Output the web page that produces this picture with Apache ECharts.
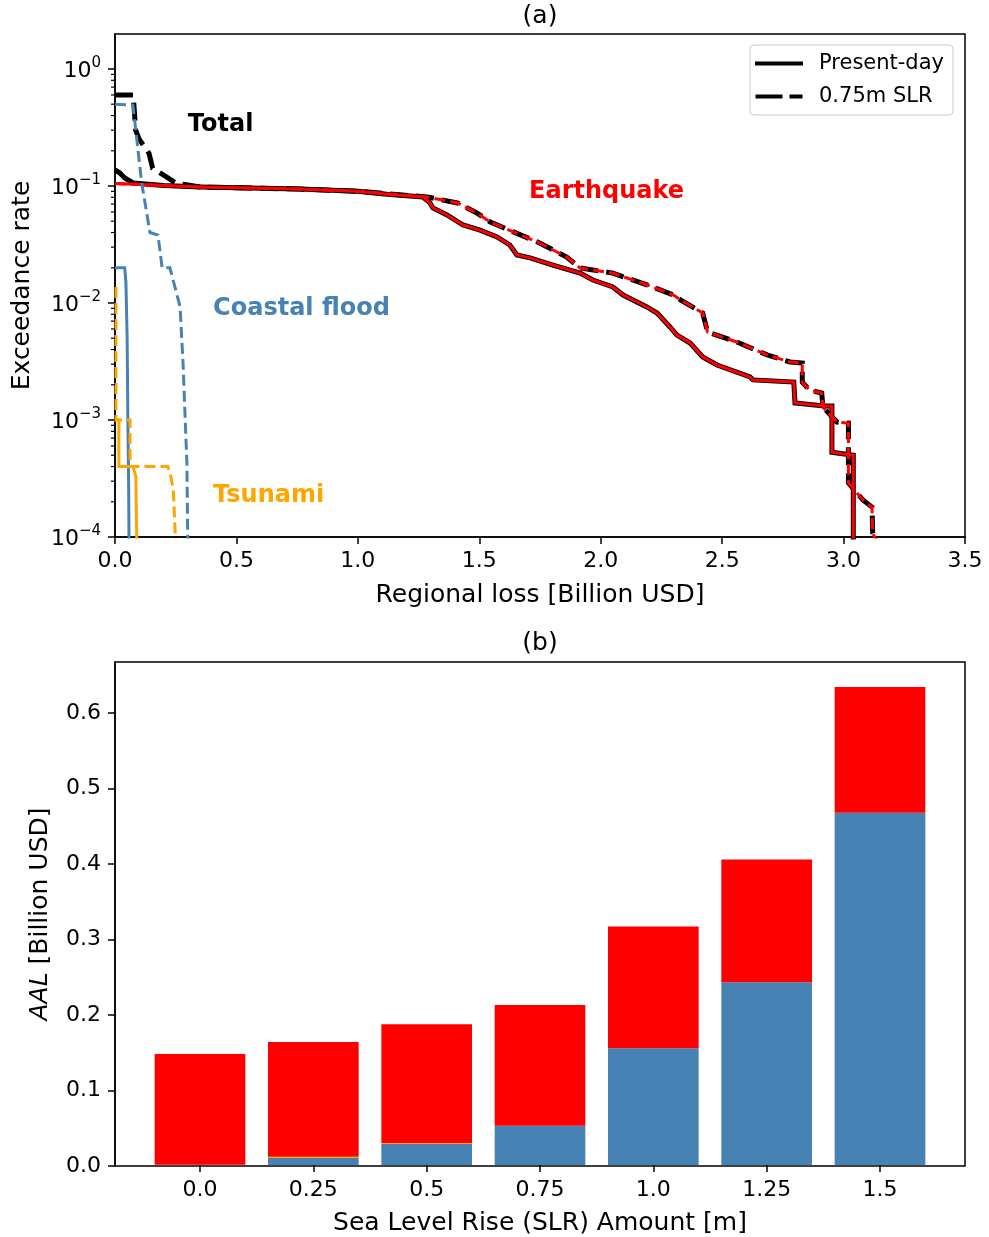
<!DOCTYPE html>
<html><head><meta charset="utf-8">
<script src="https://cdn.jsdelivr.net/npm/echarts@6/dist/echarts.min.js"></script>
<style>html,body{margin:0;padding:0;background:#fff}#c{width:989px;height:1237px}</style>
</head><body><div id="c"></div>
<script>
const FONT = 'DejaVu Sans';
const BLACK = '#000000', RED = '#ff0000', BLUE = '#4682b4', ORANGE = '#ffa500';

// ---------- Panel (a): exceedance curves [loss (billion USD), rate] ----------
const eqPresent = [[0,0.105],[0.35,0.098],[0.76,0.094],[1.0,0.09],[1.12,0.085],[1.268,0.0805],[1.297,0.0716],[1.309,0.0649],[1.367,0.0565],[1.433,0.0464],[1.503,0.042],[1.573,0.0367],[1.626,0.0313],[1.655,0.0257],[1.709,0.0243],[1.803,0.0211],[1.915,0.018],[1.968,0.0157],[2.05,0.0137],[2.092,0.0117],[2.19,0.00925],[2.232,0.0082],[2.285,0.00624],[2.314,0.00532],[2.368,0.00455],[2.42,0.00346],[2.479,0.00295],[2.615,0.00233],[2.627,0.0022],[2.795,0.00211],[2.80,0.0014],[2.92,0.00132],[2.952,0.00132],[2.952,0.00053],[3.04,0.0005],[3.04,0.00008]];
const eqSLR = [[0,0.105],[0.35,0.098],[0.76,0.094],[1.0,0.09],[1.12,0.086],[1.285,0.0805],[1.41,0.0716],[1.49,0.0588],[1.545,0.0492],[1.64,0.0405],[1.74,0.0332],[1.86,0.0247],[1.915,0.0199],[2.05,0.018],[2.19,0.0143],[2.30,0.0117],[2.33,0.0106],[2.42,0.0082],[2.44,0.00565],[2.56,0.00464],[2.685,0.0036],[2.78,0.00313],[2.83,0.00307],[2.83,0.0021],[2.86,0.0018],[2.91,0.0017],[2.915,0.00129],[2.973,0.00096],[3.02,0.00094],[3.02,0.00029],[3.08,0.000207],[3.117,0.00018],[3.12,0.000108],[3.15,0.00008]];
const totalPresentHead = [[0,0.137],[0.02,0.129],[0.04,0.117],[0.075,0.106],[0.2,0.101]];
const totalSLRHead = [[0,0.6],[0.075,0.6],[0.085,0.3],[0.10,0.25],[0.14,0.19],[0.155,0.142],[0.21,0.12],[0.25,0.106],[0.30,0.102]];
const totalPresent = totalPresentHead.concat(eqPresent.slice(1));
const totalSLR = totalSLRHead.concat(eqSLR.slice(1));
const floodPresent = [[0,0.02],[0.04,0.02],[0.045,0.015],[0.05,0.005],[0.053,0.001],[0.056,0.0003],[0.058,0.00008]];
const floodSLR = [[0,0.5],[0.074,0.49],[0.09,0.247],[0.11,0.106],[0.144,0.04],[0.177,0.038],[0.194,0.02],[0.226,0.02],[0.268,0.0093],[0.28,0.0031],[0.296,0.00043],[0.30,0.00008]];
const tsuPresent = [[0,0.001],[0.016,0.001],[0.016,0.0004],[0.074,0.0004],[0.086,0.00033],[0.09,0.00008]];
const tsuSLR = [[0.004,0.0137],[0.004,0.001],[0.062,0.001],[0.062,0.0004],[0.218,0.0004],[0.23,0.00033],[0.24,0.00025],[0.251,0.00008]];

const yMajorA = [1e-4,1e-3,1e-2,1e-1,1];
const minorMantissas = [2,3,4,5,6,7,8,9];
const minorDecades = [1e-4,1e-3,1e-2,1e-1,1];

const annotations = [
  {name:'Total', x:0.30, y:0.332, color:BLACK},
  {name:'Earthquake', x:1.705, y:0.0888, color:RED},
  {name:'Coastal flood', x:0.404, y:0.00886, color:BLUE},
  {name:'Tsunami', x:0.404, y:0.000224, color:ORANGE}
];

// ---------- Panel (b): AAL stacked bars ----------
const slrLabels = ['0.0','0.25','0.5','0.75','1.0','1.25','1.5'];
const aalFlood = [0, 0.0093, 0.0278, 0.052, 0.155, 0.2424, 0.4675];
const aalTsunami = [0.0004, 0.0017, 0.0013, 0, 0, 0, 0];
const aalEQ = [0.147, 0.1523, 0.1577, 0.1603, 0.1616, 0.1629, 0.1669];
const yTicksB = [0,0.1,0.2,0.3,0.4,0.5,0.6];

const minorTicks = [];
minorDecades.forEach(d => minorMantissas.forEach(m => { const v = d*m; if (v < 1.99) minorTicks.push(v); }));

const axisLineStyle = {color:BLACK, width:1.5};
const tickFont = {fontSize:22, color:BLACK, fontFamily:FONT};
const nameFont = {fontSize:25, color:BLACK, fontFamily:FONT};

function supLabel(v){
  const l = Math.log10(v), e = Math.round(l);
  if (Math.abs(l-e) > 1e-6) return '';
  return '{b|10}{sup|' + (e < 0 ? '\u2212' + (-e) : String(e)) + '}';
}

function lineSeries(name, data, color, width, dash, z){
  return {type:'line', name:name, xAxisIndex:0, yAxisIndex:0, data:data, showSymbol:false, symbol:'none',
    lineStyle:{color:color, width:width, type:dash || 'solid', cap:'butt', join:'miter'}, itemStyle:{color:color},
    z:z, clip:true, silent:true};
}

// bar plot area: 7 categories occupy 7/7.5 of the frame width (matplotlib xlim -0.75..6.75)
const FRAME_L = 115, FRAME_W = 850, UNIT = 850/7.5;
const BAR_L = FRAME_L + 0.25*UNIT, BAR_W = 7*UNIT;

const chart = echarts.init(document.getElementById('c'), null, {renderer:'canvas'});
chart.setOption({
  animation:false,
  backgroundColor:'#ffffff',
  textStyle:{fontFamily:FONT},
  graphic:[
    {type:'text', x:540, y:16, style:{text:'(a)', fill:BLACK, font:'25px "DejaVu Sans"', textAlign:'center', textVerticalAlign:'middle'}},
    {type:'text', x:540, y:643, style:{text:'(b)', fill:BLACK, font:'25px "DejaVu Sans"', textAlign:'center', textVerticalAlign:'middle'}}
  ],
  legend:{
    data:[
      {name:'Present-day', icon:'path://M0,0H48V4H0Z'},
      {name:'0.75m SLR', icon:'path://M0,0H27V4H0Z M34,0H47V4H34Z'}
    ],
    orient:'vertical', left:750, top:45,
    itemWidth:48, itemHeight:4, itemGap:12, padding:[8,9,8,5],
    backgroundColor:'#fff', borderColor:'#cccccc', borderWidth:1, borderRadius:4,
    itemStyle:{color:BLACK, borderWidth:0},
    textStyle:{fontSize:21, color:BLACK, fontFamily:FONT, padding:[0,0,0,11]},
    selectedMode:false
  },
  grid:[
    {left:FRAME_L, top:34, width:FRAME_W, height:503, show:true, borderColor:BLACK, borderWidth:1.5, backgroundColor:'rgba(0,0,0,0)'},
    {left:BAR_L, top:662, width:BAR_W, height:504, show:false},
    {left:FRAME_L, top:662, width:FRAME_W, height:504, show:true, borderColor:BLACK, borderWidth:1.5, backgroundColor:'rgba(0,0,0,0)'}
  ],
  xAxis:[
    {type:'value', gridIndex:0, min:0, max:3.5, interval:0.5,
     axisLine:{show:true, onZero:false, lineStyle:axisLineStyle},
     axisTick:{show:true, length:7, lineStyle:axisLineStyle},
     axisLabel:Object.assign({margin:13, formatter:v => v.toFixed(1)}, tickFont),
     splitLine:{show:false},
     name:'Regional loss [Billion USD]', nameLocation:'middle', nameGap:46, nameTextStyle:nameFont},
    {type:'category', gridIndex:1, data:slrLabels, boundaryGap:true,
     axisLine:{show:false, onZero:false},
     axisTick:{show:true, length:7, alignWithLabel:true, interval:0, lineStyle:axisLineStyle},
     axisLabel:Object.assign({margin:14, interval:0}, tickFont),
     splitLine:{show:false},
     name:'Sea Level Rise (SLR) Amount [m]', nameLocation:'middle', nameGap:46, nameTextStyle:nameFont},
    {type:'value', gridIndex:2, min:0, max:1, show:false}
  ],
  yAxis:[
    {type:'log', gridIndex:0, logBase:10, min:1e-4, max:1.99,
     axisLine:{show:true, onZero:false, lineStyle:axisLineStyle},
     axisTick:{show:true, length:7, lineStyle:axisLineStyle, customValues:yMajorA},
     axisLabel:Object.assign({margin:14, customValues:yMajorA, formatter:supLabel,
       rich:{b:{fontSize:22, lineHeight:26, verticalAlign:'bottom', fontFamily:FONT, color:BLACK},
             sup:{fontSize:15, lineHeight:15, verticalAlign:'top', fontFamily:FONT, color:BLACK}}}, tickFont),
     splitLine:{show:false}, minorTick:{show:false},
     name:'Exceedance rate', nameLocation:'middle', nameGap:80, nameTextStyle:nameFont},
    {type:'value', gridIndex:1, min:0, max:0.6675, show:false},
    {type:'value', gridIndex:2, min:0, max:0.6675,
     axisLine:{show:true, onZero:false, lineStyle:axisLineStyle},
     axisTick:{show:true, length:7, lineStyle:axisLineStyle, customValues:yTicksB},
     axisLabel:Object.assign({margin:14, customValues:yTicksB, formatter:v => v.toFixed(1)}, tickFont),
     splitLine:{show:false},
     name:'{i|AAL} [Billion USD]', nameLocation:'middle', nameGap:62,
     nameTextStyle:Object.assign({rich:{i:{fontStyle:'italic', fontSize:25, fontFamily:FONT, color:BLACK}}}, nameFont)}
  ],
  series:[
    lineSeries('Present-day', totalPresent, BLACK, 5, 'solid', 2),
    lineSeries('0.75m SLR', totalSLR, BLACK, 5, [18,8], 2),
    lineSeries('EQ present', eqPresent, RED, 3, 'solid', 3),
    lineSeries('EQ SLR', eqSLR, RED, 3, [11,5], 3),
    lineSeries('CF present', floodPresent, BLUE, 3, 'solid', 4),
    lineSeries('CF SLR', floodSLR, BLUE, 3, [11,5], 4),
    lineSeries('TS present', tsuPresent, ORANGE, 3, 'solid', 5),
    lineSeries('TS SLR', tsuSLR, ORANGE, 3, [11,5], 5),
    {type:'scatter', name:'labels', xAxisIndex:0, yAxisIndex:0, symbolSize:0, silent:true, z:6,
     itemStyle:{opacity:1},
     data:annotations.map(a => ({name:a.name, value:[a.x, a.y], label:{color:a.color}})),
     label:{show:true, position:'right', distance:0, opacity:1, formatter:p => p.name, fontSize:24, fontWeight:'bold', fontFamily:FONT}},
    {type:'custom', name:'minor ticks', xAxisIndex:0, yAxisIndex:0, silent:true, clip:false, z:7,
     data:minorTicks.map(v => [0, v]), encode:{x:0, y:1},
     renderItem:(params, api) => {
       const p = api.coord([api.value(0), api.value(1)]);
       return {type:'line', shape:{x1:p[0]-4, y1:p[1], x2:p[0], y2:p[1]}, style:{stroke:BLACK, lineWidth:1.2}};
     }},
    {type:'bar', name:'Coastal flood AAL', xAxisIndex:1, yAxisIndex:1, stack:'aal', barWidth:'80%',
     data:aalFlood, itemStyle:{color:BLUE}, silent:true},
    {type:'bar', name:'Tsunami AAL', xAxisIndex:1, yAxisIndex:1, stack:'aal', barWidth:'80%',
     data:aalTsunami, itemStyle:{color:ORANGE}, silent:true},
    {type:'bar', name:'Earthquake AAL', xAxisIndex:1, yAxisIndex:1, stack:'aal', barWidth:'80%',
     data:aalEQ, itemStyle:{color:RED}, silent:true}
  ]
});
</script></body></html>
